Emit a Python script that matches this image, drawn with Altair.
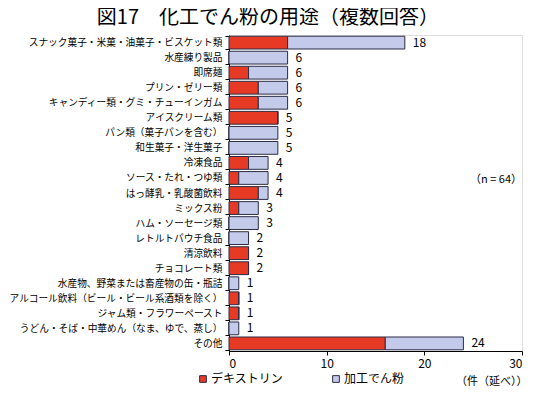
import altair as alt
import pandas as pd

categories = [
    "スナック菓子・米菓・油菓子・ビスケット類",
    "水産練り製品",
    "即席麺",
    "プリン・ゼリー類",
    "キャンディー類・グミ・チューインガム",
    "アイスクリーム類",
    "パン類（菓子パンを含む）",
    "和生菓子・洋生菓子",
    "冷凍食品",
    "ソース・たれ・つゆ類",
    "はっ酵乳・乳酸菌飲料",
    "ミックス粉",
    "ハム・ソーセージ類",
    "レトルトパウチ食品",
    "清涼飲料",
    "チョコレート類",
    "水産物、野菜または畜産物の缶・瓶詰",
    "アルコール飲料（ビール・ビール系酒類を除く）",
    "ジャム類・フラワーペースト",
    "うどん・そば・中華めん（なま、ゆで、蒸し）",
    "その他",
]
dextrin = [6, 0, 2, 3, 3, 5, 0, 0, 2, 1, 3, 1, 0, 0, 2, 2, 0, 1, 1, 0, 16]
processed = [12, 6, 4, 3, 3, 0, 5, 5, 2, 3, 1, 2, 3, 2, 0, 0, 1, 0, 0, 1, 8]
series = ["デキストリン", "加工でん粉"]
x_ticks = [0, 10, 20, 30]

FONT = "Noto Sans CJK JP"

rows = []
for i, c in enumerate(categories):
    rows.append({"cat": c, "series": series[0], "value": dextrin[i], "ord": 0})
    rows.append({"cat": c, "series": series[1], "value": processed[i], "ord": 1})
df = pd.DataFrame(rows)
tot = pd.DataFrame({"cat": categories, "total": [d + p for d, p in zip(dextrin, processed)]})

y_enc = alt.Y("cat:N", sort=categories, title=None,
              scale=alt.Scale(paddingInner=0.15, paddingOuter=0.08),
              axis=alt.Axis(labelFont=FONT, labelFontSize=9.7, labelColor="#000",
                            labelLimit=400, tickBand="extent", tickSize=4,
                            tickColor="#000", domainColor="#000", labelPadding=3))

bars = alt.Chart(df).mark_bar(stroke="#2b2b45", strokeWidth=1).encode(
    x=alt.X("value:Q", stack="zero", title="（件（延べ））",
            scale=alt.Scale(domain=[0, 30]),
            axis=alt.Axis(values=x_ticks, grid=False, labelFont=FONT, labelFontSize=12,
                          labelColor="#000", tickColor="#000", domainColor="#000",
                          tickSize=4, labelPadding=3,
                          titleFont=FONT, titleFontSize=11, titleFontWeight="normal",
                          titleColor="#000", titleAnchor="end", titleAlign="right",
                          titleBaseline="middle", titleX=298, titleY=30)),
    y=y_enc,
    order=alt.Order("ord:Q"),
    color=alt.Color("series:N", sort=series,
                    scale=alt.Scale(domain=series, range=["#e63a24", "#c4cbea"]),
                    legend=alt.Legend(title=None, orient="none", direction="horizontal",
                                      legendX=-32, legendY=338,
                                      labelFont=FONT, labelFontSize=12, labelColor="#000",
                                      symbolType="square", symbolSize=45,
                                      symbolStrokeColor="#2b2b45", symbolStrokeWidth=1,
                                      columnPadding=46, labelOffset=2, padding=0)),
)

labels = alt.Chart(tot).mark_text(align="left", baseline="middle", dx=8,
                                  font=FONT, fontSize=12, color="#000").encode(
    x="total:Q",
    y=alt.Y("cat:N", sort=categories),
    text="total:Q",
)

note = alt.Chart(pd.DataFrame({"t": ["（n = 64）"]})).mark_text(
    align="right", baseline="middle", font=FONT, fontSize=11, color="#000").encode(
    x=alt.value(293), y=alt.value(145), text="t:N")

chart = alt.layer(bars, labels, note).properties(
    width=293, height=316,
    padding={"left": 0, "top": 0, "right": 0, "bottom": 0},
    title=alt.Title("図17　化工でん粉の用途（複数回答）", font=FONT, fontSize=20,
                    fontWeight="normal", color="#000", anchor="middle", frame="bounds",
                    offset=2),
).configure_view(stroke=None).configure(background="white")

chart.save("out.html", embed_options={"renderer": "svg", "actions": False})
